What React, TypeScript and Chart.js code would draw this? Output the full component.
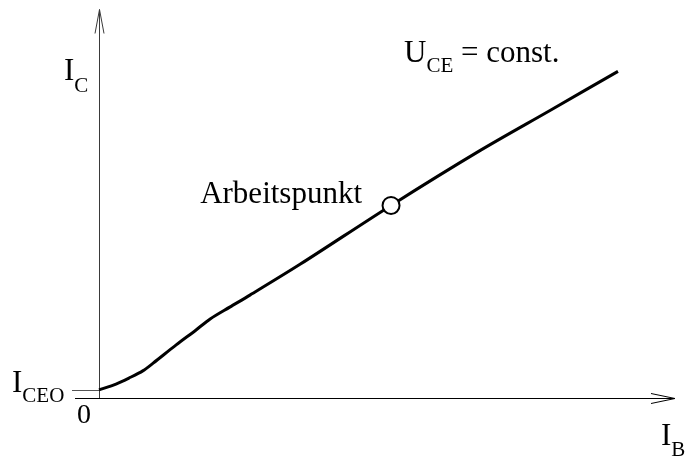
import { useEffect, useRef } from 'react';
import { Chart, registerables } from 'chart.js';

Chart.register(...registerables);

// Transfer characteristic I_C = f(I_B), U_CE = const. (values in % of axis range)
const curveIB = [0, 2.95, 5.2, 7.6, 9.4, 13.4, 16.8, 19.3, 22.7, 26.2, 34.9, 50.7, 66.2, 78.3, 90.1];
const curveIC = [2.1, 3.6, 5.15, 7.0, 9.0, 13.7, 17.5, 20.4, 23.45, 26.55, 34.5, 49.7, 63.9, 74.2, 84.3];
const operatingIB = [50.7];
const operatingIC = [49.7];
const iceoValue = 2.1;
const axisLabelY = ['I', 'C'];
const axisLabelX = ['I', 'B'];
const iceoLabel = ['I', 'CEO'];
const conditionLabel = ['U', 'CE', ' = const.'];
const pointLabel = 'Arbeitspunkt';
const originLabel = '0';

const SERIF = '"Liberation Serif", "Times New Roman", serif';
const MAIN = `31px ${SERIF}`;
const SUB = `21px ${SERIF}`;

function drawSub(ctx: CanvasRenderingContext2D, main: string, sub: string, x: number, y: number, drop: number, rest?: string) {
  ctx.font = MAIN;
  ctx.fillText(main, x, y);
  let w = ctx.measureText(main).width;
  ctx.font = SUB;
  ctx.fillText(sub, x + w, y + drop);
  w += ctx.measureText(sub).width;
  if (rest) {
    ctx.font = MAIN;
    ctx.fillText(rest, x + w, y);
    w += ctx.measureText(rest).width;
  }
  return w;
}

const diagramPlugin = {
  id: 'diagram',
  beforeDatasetsDraw(chart: any) {
    const ctx: CanvasRenderingContext2D = chart.ctx;
    const xs = chart.scales.x;
    const ys = chart.scales.y;
    const x0 = Math.round(xs.getPixelForValue(0));
    const yb = Math.round(ys.getPixelForValue(0));
    const xEnd = xs.getPixelForValue(100);
    const yTop = ys.getPixelForValue(100);
    const yI = ys.getPixelForValue(iceoValue);
    ctx.save();
    ctx.lineCap = 'butt';
    // y axis
    ctx.strokeStyle = '#3a3a3a';
    ctx.lineWidth = 1;
    ctx.beginPath();
    ctx.moveTo(x0 + 0.5, yb);
    ctx.lineTo(x0 + 0.5, yTop - 1);
    ctx.stroke();
    ctx.beginPath();
    ctx.moveTo(x0 - 4, yTop + 23);
    ctx.lineTo(x0 + 0.5, yTop - 1);
    ctx.lineTo(x0 + 5, yTop + 23);
    ctx.stroke();
    // I_CEO marker line
    ctx.strokeStyle = '#555';
    ctx.beginPath();
    ctx.moveTo(x0 - 27, Math.round(yI) + 0.5);
    ctx.lineTo(x0, Math.round(yI) + 0.5);
    ctx.stroke();
    // x axis
    ctx.strokeStyle = '#000';
    ctx.lineWidth = 1.2;
    ctx.beginPath();
    ctx.moveTo(x0 - 24, yb + 0.5);
    ctx.lineTo(xEnd, yb + 0.5);
    ctx.stroke();
    ctx.lineWidth = 1;
    ctx.beginPath();
    ctx.moveTo(xEnd - 24, yb - 4.5);
    ctx.lineTo(xEnd, yb + 0.5);
    ctx.lineTo(xEnd - 24, yb + 5.5);
    ctx.stroke();
    ctx.restore();
  },
  afterDatasetsDraw(chart: any) {
    const ctx: CanvasRenderingContext2D = chart.ctx;
    const xs = chart.scales.x;
    const ys = chart.scales.y;
    const x0 = xs.getPixelForValue(0);
    const yb = ys.getPixelForValue(0);
    const xEnd = xs.getPixelForValue(100);
    const yTop = ys.getPixelForValue(100);
    const yI = ys.getPixelForValue(iceoValue);
    const opX = xs.getPixelForValue(operatingIB[0]);
    const opY = ys.getPixelForValue(operatingIC[0]);
    ctx.save();
    ctx.fillStyle = '#000';
    ctx.textBaseline = 'alphabetic';
    ctx.textAlign = 'left';
    drawSub(ctx, axisLabelY[0], axisLabelY[1], x0 - 35, yTop + 69, 12);
    drawSub(ctx, iceoLabel[0], iceoLabel[1], x0 - 87, yI + 2.5, 10);
    drawSub(ctx, axisLabelX[0], axisLabelX[1], xEnd - 14, yb + 47, 11);
    drawSub(ctx, conditionLabel[0], conditionLabel[1], x0 + 305, yTop + 51, 10, conditionLabel[2]);
    ctx.font = MAIN;
    ctx.textAlign = 'right';
    ctx.fillText(pointLabel, opX - 29, opY - 2);
    ctx.font = `28px ${SERIF}`;
    ctx.textAlign = 'center';
    ctx.fillText(originLabel, x0 - 15, yb + 25);
    ctx.restore();
  },
};

export default function App() {
  const ref = useRef<HTMLCanvasElement | null>(null);
  useEffect(() => {
    if (!ref.current) return;
    const chart = new Chart(ref.current, {
      type: 'scatter',
      data: {
        datasets: [
          {
            label: 'Arbeitspunkt',
            data: operatingIB.map((x, i) => ({ x, y: operatingIC[i] })),
            pointRadius: 8.5,
            pointBackgroundColor: '#fff',
            pointBorderColor: '#000',
            pointBorderWidth: 2,
            showLine: false,
            order: 0,
            clip: false as any,
          },
          {
            label: 'I_C(I_B)',
            data: curveIB.map((x, i) => ({ x, y: curveIC[i] })),
            showLine: true,
            borderColor: '#000',
            borderWidth: 3,
            borderJoinStyle: 'round',
            pointRadius: 0,
            tension: 0.3,
            order: 1,
            clip: false as any,
          },
        ],
      },
      options: {
        animation: false,
        responsive: false,
        devicePixelRatio: 1,
        layout: { padding: { left: 99, right: 11, top: 10, bottom: 62 } },
        scales: {
          x: { type: 'linear', min: 0, max: 100, display: false },
          y: { type: 'linear', min: 0, max: 100, display: false },
        },
        plugins: { legend: { display: false }, tooltip: { enabled: false } },
      },
      plugins: [diagramPlugin],
    });
    return () => chart.destroy();
  }, []);
  return (
    <div style={{ position: 'absolute', left: 0, top: 0, width: 686, height: 460, background: '#fff' }}>
      <canvas ref={ref} width={686} height={460} style={{ width: 686, height: 460 }} />
    </div>
  );
}
